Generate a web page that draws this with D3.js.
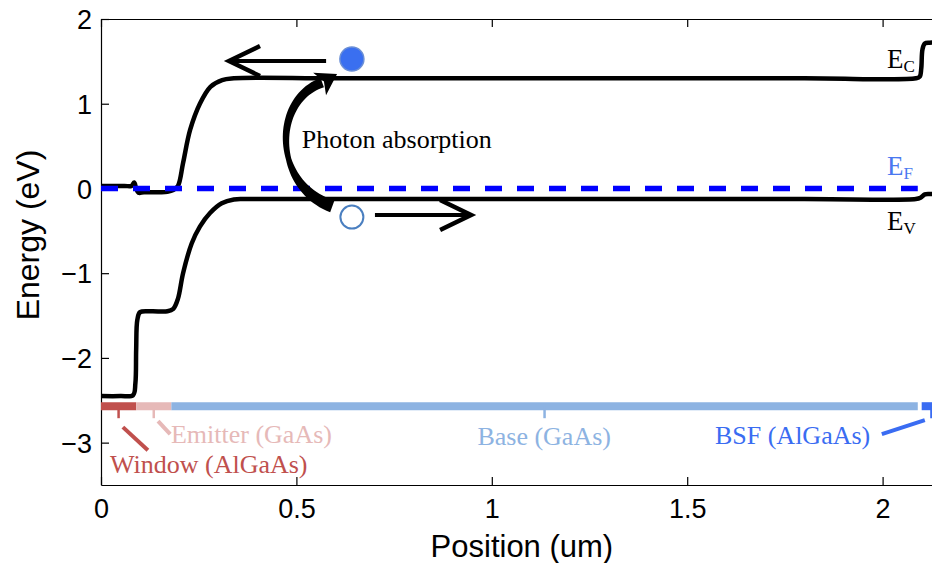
<!DOCTYPE html>
<html>
<head>
<meta charset="utf-8">
<script src="https://cdn.jsdelivr.net/npm/d3@7"></script>
<style>
  html, body { margin: 0; padding: 0; background: #fff; overflow: hidden; }
</style>
</head>
<body>
<svg id="chart" width="932" height="563"></svg>
<script>
// conduction band edge (position um, energy eV)
var ecX = [0, 0.06, 0.078, 0.085, 0.09, 0.096, 0.11, 0.15, 0.17, 0.185, 0.197, 0.21, 0.228, 0.253, 0.28, 0.31, 0.34, 0.6, 1.2, 1.8, 2.085, 2.095, 2.099, 2.102, 2.108, 2.12, 2.15];
var ecY = [0.03, 0.03, 0.03, 0.07, 0.0, -0.05, -0.045, -0.045, -0.04, -0.02, 0.03, 0.3, 0.69, 1.0, 1.2, 1.28, 1.3, 1.3, 1.3, 1.3, 1.3, 1.32, 1.42, 1.64, 1.71, 1.72, 1.72];

// valence band edge
var evX = [0, 0.05, 0.082, 0.088, 0.09, 0.093, 0.1, 0.13, 0.17, 0.185, 0.197, 0.21, 0.232, 0.253, 0.279, 0.309, 0.34, 0.37, 0.6, 1.2, 1.8, 2.085, 2.097, 2.108, 2.12, 2.15];
var evY = [-2.45, -2.45, -2.44, -2.3, -1.9, -1.55, -1.46, -1.45, -1.45, -1.42, -1.3, -1.0, -0.65, -0.45, -0.29, -0.175, -0.13, -0.125, -0.125, -0.125, -0.125, -0.125, -0.11, -0.07, -0.065, -0.07];

// Fermi level
var efX = [0, 2.09];
var efY = [0, 0];

// device layers
var layerNames = ["Window (AlGaAs)", "Emitter (GaAs)", "Base (GaAs)", "BSF (AlGaAs)"];
var layerStart = [0, 0.09, 0.18, 2.10];
var layerEnd = [0.09, 0.18, 2.09, 2.15];
var layerLevel = -2.57;
var layerColors = ["#c0504d", "#e6b9b8", "#8db3e2", "#3a6cf2"];

// layer labels and leader lines
var labelX = [0.023, 0.179, 1.134, 1.571];
var labelY = [-3.36, -3.0, -3.03, -3.02];
var labelAnchor = ["start", "start", "middle", "start"];
var leaderX1 = [0.056, 0.146, null, 1.998];
var leaderY1 = [-2.817, -2.746, null, -2.90];
var leaderX2 = [0.12, 0.177, null, 2.108];
var leaderY2 = [-3.089, -2.90, null, -2.734];

// axes
var xTicks = [0, 0.5, 1, 1.5, 2];
var yTicks = [-3, -2, -1, 0, 1, 2];

// carriers and arrows
var electron = [0.642, 1.528];
var hole = [0.642, -0.338];
var eArrow = [[0.576, 1.504], [0.3275, 1.504]];
var hArrow = [[0.701, -0.314], [0.947, -0.314]];
var photonArc = [[0.592, -0.21], [0.44, 0.03], [0.437, 1.04], [0.566, 1.25]];
var photonTip = [0.604, 1.35];

var svg = d3.select("#chart");

var x = d3.scaleLinear().domain([0, 2.15]).range([101, 101 + 2.15 * 390.8]);
var y = d3.scaleLinear().domain([-3.5, 2]).range([485, 19]);

var sans = "'Liberation Sans', Arial, Helvetica, sans-serif";
var serif = "'Liberation Serif', 'Times New Roman', serif";

// axes: box with inward ticks
var xAxis = d3.axisBottom(x).tickValues(xTicks).tickSizeInner(-8).tickSizeOuter(0).tickPadding(14)
  .tickFormat(d3.format("~g"));
var gx = svg.append("g").attr("transform", "translate(0," + y(-3.5) + ")").call(xAxis);
var gxTop = svg.append("g").attr("transform", "translate(0," + y(2) + ")")
  .call(d3.axisTop(x).tickValues(xTicks).tickSizeInner(-8).tickSizeOuter(0).tickFormat(""));
var yAxis = d3.axisLeft(y).tickValues(yTicks).tickSizeInner(-8).tickSizeOuter(0).tickPadding(9)
  .tickFormat(d3.format("d"));
var gy = svg.append("g").attr("transform", "translate(" + x(0) + ",0)").call(yAxis);

[gx, gxTop, gy].forEach(function (g) {
  g.select(".domain").attr("stroke", "#000").attr("stroke-width", 1.2);
  g.selectAll(".tick line").attr("stroke", "#000").attr("stroke-width", 1.2);
  g.selectAll("text").attr("font-family", sans).attr("font-size", 27).attr("fill", "#000");
});
gy.selectAll("text").attr("dy", "0.36em");

svg.append("text")
  .attr("x", x(1.077)).attr("y", 557)
  .attr("text-anchor", "middle")
  .attr("font-family", sans).attr("font-size", 31)
  .text("Position (um)");

svg.append("text")
  .attr("transform", "translate(39," + 235 + ") rotate(-90)")
  .attr("text-anchor", "middle")
  .attr("font-family", sans).attr("font-size", 32)
  .text("Energy (eV)");

// bands
var line = d3.line().x(function (d) { return x(d[0]); }).y(function (d) { return y(d[1]); })
  .curve(d3.curveCatmullRom.alpha(0.5));

svg.append("path")
  .datum(d3.zip(ecX, ecY))
  .attr("d", line)
  .attr("fill", "none").attr("stroke", "#000").attr("stroke-width", 4.5)
  .attr("stroke-linejoin", "round");

svg.append("path")
  .datum(d3.zip(evX, evY))
  .attr("d", line)
  .attr("fill", "none").attr("stroke", "#000").attr("stroke-width", 4.5)
  .attr("stroke-linejoin", "round");

svg.append("path")
  .datum(d3.zip(efX, efY))
  .attr("d", d3.line().x(function (d) { return x(d[0]); }).y(function (d) { return y(d[1]); }))
  .attr("fill", "none").attr("stroke", "#0000ff").attr("stroke-width", 5.5)
  .attr("stroke-dasharray", "17,15");

// layer bar
layerNames.forEach(function (name, i) {
  svg.append("line")
    .attr("x1", x(layerStart[i])).attr("x2", x(layerEnd[i]))
    .attr("y1", y(layerLevel)).attr("y2", y(layerLevel))
    .attr("stroke", layerColors[i]).attr("stroke-width", 8);
  var mid = (layerStart[i] + layerEnd[i]) / 2;
  svg.append("line")
    .attr("x1", x(mid)).attr("x2", x(mid))
    .attr("y1", y(layerLevel)).attr("y2", y(layerLevel) + 12)
    .attr("stroke", layerColors[i]).attr("stroke-width", 2.5);
  if (leaderX1[i] != null) {
    svg.append("line")
      .attr("x1", x(leaderX1[i])).attr("y1", y(leaderY1[i]))
      .attr("x2", x(leaderX2[i])).attr("y2", y(leaderY2[i]))
      .attr("stroke", layerColors[i]).attr("stroke-width", 4);
  }
  svg.append("text")
    .attr("x", x(labelX[i])).attr("y", y(labelY[i]))
    .attr("text-anchor", labelAnchor[i])
    .attr("font-family", serif).attr("font-size", 26)
    .attr("fill", layerColors[i])
    .text(name);
});

// band labels
function bandLabel(sub, xv, yv, color) {
  var t = svg.append("text")
    .attr("x", x(xv)).attr("y", y(yv))
    .attr("font-family", serif).attr("font-size", 27).attr("fill", color);
  t.append("tspan").text("E");
  t.append("tspan").attr("font-size", 17).attr("dy", 4).text(sub);
}
bandLabel("C", 2.011, 1.42, "#000");
bandLabel("F", 2.011, 0.158, "#4a78f0");
bandLabel("V", 2.011, -0.49, "#000");

// photon absorption arc, tapered brush stroke
function bez(p, t) {
  var u = 1 - t;
  return [u*u*u*p[0][0] + 3*u*u*t*p[1][0] + 3*u*t*t*p[2][0] + t*t*t*p[3][0],
          u*u*u*p[0][1] + 3*u*u*t*p[1][1] + 3*u*t*t*p[2][1] + t*t*t*p[3][1]];
}
var pix = photonArc.map(function (d) { return [x(d[0]), y(d[1])]; });
var left = [], right = [];
var n = 50;
for (var k = 0; k <= n; k++) {
  var t = k / n;
  var p = bez(pix, t);
  var q = bez(pix, Math.min(1, t + 0.01));
  var r = bez(pix, Math.max(0, t - 0.01));
  var dx = q[0] - r[0], dy = q[1] - r[1];
  var len = Math.sqrt(dx*dx + dy*dy);
  var nx = -dy / len, ny = dx / len;
  var w = t < 0.4 ? 6.5 - (t / 0.4) * 3.8 : 2.7 + ((t - 0.4) / 0.6) * 2.3;
  left.push([p[0] + nx * w, p[1] + ny * w]);
  right.push([p[0] - nx * w, p[1] - ny * w]);
}
svg.append("path")
  .attr("d", d3.line()(left.concat(right.reverse())) + "Z")
  .attr("fill", "#000");

var end = pix[3];
var tip = [x(photonTip[0]), y(photonTip[1])];
var ddx = tip[0] - end[0], ddy = tip[1] - end[1];
var dl = Math.sqrt(ddx*ddx + ddy*ddy);
var px = -ddy / dl, py = ddx / dl;
svg.append("path")
  .attr("d", d3.line()([
    tip,
    [end[0] + px * 13 - ddx / dl * 3, end[1] + py * 13 - ddy / dl * 3],
    [end[0] + ddx / dl * 2, end[1] + ddy / dl * 2],
    [end[0] - px * 13 - ddx / dl * 3, end[1] - py * 13 - ddy / dl * 3]
  ]) + "Z")
  .attr("fill", "#000");

svg.append("text")
  .attr("x", x(0.514)).attr("y", y(0.477))
  .attr("font-family", serif).attr("font-size", 26)
  .text("Photon absorption");

// carrier arrows
function arrow(a) {
  var p0 = [x(a[0][0]), y(a[0][1])], p1 = [x(a[1][0]), y(a[1][1])];
  var dir = p1[0] > p0[0] ? 1 : -1;
  svg.append("line")
    .attr("x1", p0[0]).attr("y1", p0[1]).attr("x2", p1[0]).attr("y2", p1[1])
    .attr("stroke", "#000").attr("stroke-width", 4);
  svg.append("path")
    .attr("d", d3.line()([[p1[0] - dir * 31, p1[1] - 15], p1, [p1[0] - dir * 31, p1[1] + 15]]))
    .attr("fill", "none").attr("stroke", "#000").attr("stroke-width", 4.5)
    .attr("stroke-linejoin", "miter");
}
arrow(eArrow);
arrow(hArrow);

svg.append("circle")
  .attr("cx", x(electron[0])).attr("cy", y(electron[1])).attr("r", 12)
  .attr("fill", "#3a6ff0").attr("stroke", "#6b8fd6").attr("stroke-width", 1.5);
svg.append("circle")
  .attr("cx", x(hole[0])).attr("cy", y(hole[1])).attr("r", 11.5)
  .attr("fill", "#fff").attr("stroke", "#4a7fc0").attr("stroke-width", 2);
</script>
</body>
</html>
